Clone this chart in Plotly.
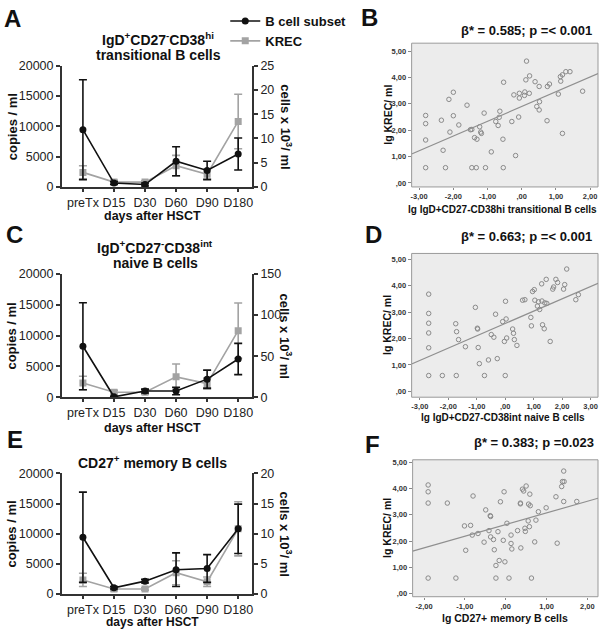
import plotly.graph_objects as go

days = ['preTx', 'D15', 'D30', 'D60', 'D90', 'D180']

# A: IgD+CD27-CD38hi transitional B cells (cells x10^3/ml) and KREC copies/ml
a_cells = [11.8, 0.8, 0.5, 5.3, 3.4, 6.8]
a_cells_err = [10.3, 0.3, 0.3, 3.0, 1.9, 3.3]
a_krec = [2400, 800, 800, 3500, 2100, 10800]
a_krec_err = [1100, 300, 200, 1700, 800, 4500]

# C: IgD+CD27-CD38int naive B cells
c_cells = [62, 0.5, 7.5, 7.5, 22, 46.5]
c_cells_err = [53, 0.5, 2.3, 4.5, 11, 19]
c_krec = [2300, 800, 800, 3300, 2200, 10800]
c_krec_err = [1100, 300, 300, 2100, 900, 4500]

# E: CD27+ memory B cells
e_cells = [9.4, 1.0, 2.1, 4.0, 4.2, 10.8]
e_cells_err = [7.5, 0.2, 0.3, 2.8, 2.3, 4.1]
e_krec = [2300, 800, 800, 3500, 2000, 10800]
e_krec_err = [1100, 300, 200, 2000, 800, 4500]

# B: lg transitional B cells vs lg KREC
b_x = [-2.81, -2.81, -2.81, -2.81, -2.35, -2.30, -2.23, -2.13, -2.10, -2.0, -2.0, -1.84,
       -1.6, -1.50, -1.46, -1.46, -1.38, -1.33, -1.31, -1.23, -1.20, -1.18, -1.1, -1.06,
       -0.89, -0.76, -0.69, -0.66, -0.64, -0.55, -0.54, -0.53, -0.29, -0.23, -0.18, -0.09,
       -0.07, -0.07, 0.08, 0.09, 0.12, 0.14, 0.23, 0.22, 0.39, 0.44, 0.51, 0.51, 0.52,
       0.74, 0.75, 0.81, 1.07, 1.13, 1.14, 1.19, 1.19, 1.29, 1.41, 1.78]
b_y = [2.56, 2.25, 1.63, 0.58, 2.38, 1.24, 0.58, 3.17, 1.93, 3.44, 2.55, 2.20,
       2.95, 2.02, 2.03, 0.58, 1.72, 0.58, 1.66, 2.13, 1.93, 1.88, 2.65, 0.58,
       1.18, 2.33, 2.18, 2.49, 2.72, 1.66, 0.58, 3.82, 2.33, 3.34, 1.04, 2.50,
       3.40, 3.22, 3.32, 3.45, 3.91, 4.62, 4.06, 3.40, 3.84, 2.90, 3.66, 2.77, 3.08,
       2.36, 3.66, 3.75, 3.37, 4.03, 3.86, 4.10, 1.88, 4.22, 4.22, 3.48]
b_fit = [2.90, 0.56]  # intercept, slope of the drawn fit line

# D: lg naive B cells vs lg KREC
d_x = [-2.69, -2.69, -2.69, -2.69, -2.69, -2.69, -2.21, -1.74, -1.71, -1.64, -1.72, -1.40,
       -1.05, -0.98, -0.97, -0.95, -0.91, -0.73, -0.59, -0.49, -0.40, -0.34, -0.28, -0.09,
       -0.03, 0.01, 0.03, 0.05, 0.0, 0.26, 0.29, 0.32, 0.41, 0.61, 0.69, 0.90, 0.92,
       0.96, 1.02, 1.04, 1.13, 1.17, 1.21, 1.28, 1.29, 1.31, 1.37, 1.39, 1.44, 1.46,
       1.58, 1.67, 1.70, 1.78, 1.84, 2.05, 2.09, 2.16, 2.48, 2.57]
d_y = [3.68, 2.95, 2.58, 2.21, 1.65, 0.60, 0.60, 2.56, 2.26, 1.96, 0.60, 1.69,
       3.18, 2.39, 2.36, 1.66, 1.05, 0.60, 1.19, 2.15, 2.05, 2.92, 1.24, 2.64,
       1.89, 3.41, 2.74, 2.02, 0.60, 2.36, 2.20, 1.96, 1.74, 3.45, 3.47, 2.80, 2.48,
       3.78, 3.85, 3.45, 3.23, 3.39, 3.10, 4.07, 3.42, 2.52, 2.37, 3.35, 4.24, 3.33,
       1.89, 3.87, 3.95, 4.24, 4.12, 3.87, 4.04, 4.63, 3.47, 3.66]
d_fit = [2.57, 0.467]

# F: lg memory B cells vs lg KREC
f_x = [-1.90, -1.90, -1.90, -1.90, -1.43, -1.22, -1.01, -0.98, -0.86, -0.82, -0.80, -0.68,
       -0.53, -0.49, -0.41, -0.38, -0.37, -0.37, -0.30, -0.28, -0.24, -0.24, -0.19, -0.16,
       -0.13, -0.06, -0.04, -0.02, 0.03, 0.08, 0.13, 0.13, 0.15, 0.29, 0.36, 0.36, 0.37,
       0.41, 0.44, 0.47, 0.48, 0.50, 0.55, 0.56, 0.58, 0.59, 0.60, 0.63, 0.71, 0.74,
       0.80, 0.99, 1.23, 1.26, 1.37, 1.39, 1.42, 1.43, 1.42, 1.74]
f_y = [4.14, 3.88, 3.45, 0.59, 3.45, 0.59, 2.58, 1.65, 2.60, 2.23, 3.72, 2.29,
       1.96, 3.19, 2.40, 2.97, 2.94, 2.16, 2.06, 1.67, 1.07, 0.59, 2.36, 1.26,
       3.50, 2.03, 3.88, 1.21, 2.68, 0.59, 2.23, 1.91, 1.70, 2.40, 3.45, 3.42, 1.74,
       3.98, 3.91, 2.49, 2.37, 4.10, 2.77, 3.41, 2.55, 3.79, 3.35, 0.59, 1.97, 2.80,
       3.12, 3.27, 3.69, 1.92, 4.08, 4.27, 4.67, 4.27, 3.51, 3.51]
f_fit = [2.63, 0.445]

FONT = 'Arial, Liberation Sans, sans-serif'
BLACK = '#111111'
GREY = '#a3a3a3'
W, H = 600, 635


def px_x(p):
    return p / W


def px_y(p):
    return 1 - p / H


fig = go.Figure()
annotations = []
shapes = []


def text(x, y, s, size=13, angle=0, xanchor='center', bold=True):
    annotations.append(dict(
        x=px_x(x), y=px_y(y), xref='paper', yref='paper', text=s,
        showarrow=False, textangle=angle, xanchor=xanchor, yanchor='middle',
        font=dict(family=FONT, size=size, color='#111111', weight='bold' if bold else 'normal')
    ))


def line_panel(n, ya, yb, krec, krec_err, cells, cells_err, right_max, right_dtick, legend):
    xa = 'x' if n == 1 else 'x%d' % n
    yl = 'y' if n == 1 else 'y%d' % n
    yr = 'y%d' % (n + 1)
    fig.add_trace(go.Scatter(
        x=days, y=krec, xaxis=xa, yaxis=yl, name='KREC', showlegend=legend,
        mode='lines+markers', line=dict(color=GREY, width=1.6),
        marker=dict(symbol='square', size=7, color=GREY),
        error_y=dict(type='data', array=krec_err, color=GREY, thickness=1.6, width=4),
        legendrank=2
    ))
    fig.add_trace(go.Scatter(
        x=days, y=cells, xaxis=xa, yaxis=yr, name='B cell subset', showlegend=legend,
        mode='lines+markers', line=dict(color=BLACK, width=1.6),
        marker=dict(symbol='circle', size=7, color=BLACK),
        error_y=dict(type='data', array=cells_err, color=BLACK, thickness=1.6, width=4),
        legendrank=1
    ))
    ax = dict(
        domain=[px_x(61), px_x(252)], anchor=yl, type='category', range=[-0.68, 5.45],
        showline=True, linecolor='#333', linewidth=1.5, ticks='outside', ticklen=3,
        tickcolor='#333', tickwidth=1.5, showgrid=False, zeroline=False,
        tickfont=dict(family=FONT, size=12.5, color='#222')
    )
    left = dict(
        domain=[px_y(yb), px_y(ya)], anchor=xa, range=[0, 20000], dtick=5000,
        tickformat='d', showline=True, linecolor='#333', linewidth=1.5,
        ticks='outside', ticklen=4, tickcolor='#333', tickwidth=1.5,
        showgrid=False, zeroline=False,
        tickfont=dict(family=FONT, size=12.5, color='#222')
    )
    right = dict(left)
    right.update(overlaying=yl, side='right', range=[0, right_max], dtick=right_dtick)
    fig.update_layout({
        ('xaxis' if n == 1 else 'xaxis%d' % n): ax,
        ('yaxis' if n == 1 else 'yaxis%d' % n): left,
        'yaxis%d' % (n + 1): right,
    })
    mid = (ya + yb) / 2
    text(11, mid, 'copies / ml', angle=-90)
    text(286, mid, 'cells x 10<sup>3</sup>/ ml', angle=90)


def spss(v):
    s = ('%.2f' % v).replace('.', ',')
    if s.startswith('0,'):
        s = s[1:]
    return '<b>' + s + '</b>'


def scatter_panel(n, x0, x1, ya, yb, xs, ys, fit, xr, xticks, yr):
    xa = 'x%d' % n
    yl = 'y%d' % n
    c, k = fit
    fig.add_trace(go.Scatter(
        x=xs, y=ys, xaxis=xa, yaxis=yl, mode='markers', showlegend=False,
        marker=dict(symbol='circle-open', size=4.5, color='#8a8a8a', line=dict(width=1))
    ))
    fig.add_trace(go.Scatter(
        x=xr, y=[k * xr[0] + c, k * xr[1] + c], xaxis=xa, yaxis=yl, mode='lines',
        showlegend=False, line=dict(color='#8f8f8f', width=1.2)
    ))
    yticks = [0, 1, 2, 3, 4, 5]
    fig.update_layout({
        'xaxis%d' % n: dict(
            domain=[px_x(x0), px_x(x1)], anchor=yl, range=xr, tickvals=xticks,
            ticktext=[spss(v) for v in xticks], ticks='outside', ticklen=2,
            tickcolor='#888', showgrid=False, zeroline=False, showline=False,
            tickfont=dict(family=FONT, size=7.5, color='#333')
        ),
        'yaxis%d' % n: dict(
            domain=[px_y(yb), px_y(ya)], anchor=xa, range=yr, tickvals=yticks,
            ticktext=[spss(v) for v in yticks], ticks='outside', ticklen=3,
            tickcolor='#888', showgrid=False, zeroline=False, showline=False,
            tickfont=dict(family=FONT, size=7.5, color='#333')
        ),
    })
    shapes.append(dict(
        type='rect', xref=xa + ' domain', yref=yl + ' domain', x0=0, x1=1, y0=0, y1=1,
        fillcolor='#ececec', line=dict(color='#9a9a9a', width=1), layer='below'
    ))
    text(388, (ya + yb) / 2, 'lg KREC/ ml', size=10.5, angle=-90)


# left column: line charts
line_panel(1, 60, 184, a_krec, a_krec_err, a_cells, a_cells_err, 25, 5, True)
line_panel(3, 273, 399, c_krec, c_krec_err, c_cells, c_cells_err, 150, 50, False)
line_panel(5, 477, 600, e_krec, e_krec_err, e_cells, e_cells_err, 20, 5, False)

# right column: regressions (axes 7..9 are free ids)
scatter_panel(7, 412, 599, 37, 184, b_x, b_y, b_fit, [-3.22, 2.23], [-3, -2, -1, 0, 1, 2], [-0.15, 5.3])
scatter_panel(8, 412, 599, 252, 399, d_x, d_y, d_fit, [-3.29, 3.26], [-3, -2, -1, 0, 1, 2, 3], [-0.22, 5.22])
scatter_panel(9, 413, 599, 463, 603, f_x, f_y, f_fit, [-2.28, 2.26], [-2, -1, 0, 1, 2], [-0.12, 5.1])

# panel titles and labels
text(158, 33, 'IgD<sup>+</sup>CD27<sup>-</sup>CD38<sup>hi</sup>', size=14)
text(158, 49, 'transitional B cells', size=14)
text(155, 245, 'IgD<sup>+</sup>CD27<sup>-</sup>CD38<sup>int</sup>', size=14)
text(155, 262, 'naive B cells', size=14)
text(152, 465, 'CD27<sup>+</sup> memory B cells', size=14)
text(152, 214, 'days after HSCT', size=12.5)
text(152, 431, 'days after HSCT', size=12.5)
text(152, 629, 'days after HSCT', size=12)

text(595, 24, 'β* = 0.585; p =< 0.001', size=13, xanchor='right')
text(595, 235, 'β* = 0.663; p =< 0.001', size=13, xanchor='right')
text(597, 445, 'β* = 0.383; p =0.023', size=13, xanchor='right')
text(503, 207, 'lg IgD+CD27-CD38hi transitional B cells', size=10)
text(504, 420, 'lg IgD+CD27-CD38int naive B cells', size=10)
text(506, 625, 'lg CD27+ memory B cells', size=10.5)

for letter, x, y in [('A', 12, 12), ('B', 370, 11), ('C', 14, 233),
                     ('D', 374, 233), ('E', 14, 442), ('F', 373, 447)]:
    text(x, y, letter, size=24)

fig.update_layout(
    width=W, height=H,
    margin=dict(l=0, r=0, t=0, b=0),
    paper_bgcolor='white', plot_bgcolor='white',
    annotations=annotations, shapes=shapes,
    legend=dict(
        x=px_x(225), y=px_y(-1), xanchor='left', yanchor='top', itemwidth=30,
        font=dict(family=FONT, size=13, color='#111', weight='bold'),
        tracegroupgap=0, bgcolor='rgba(0,0,0,0)'
    ),
)

# drop the default 8px page margin so the figure fills the window exactly
fig.write_html('out.html', config={'displayModeBar': False},
               post_script="document.body.style.margin='0px';")
